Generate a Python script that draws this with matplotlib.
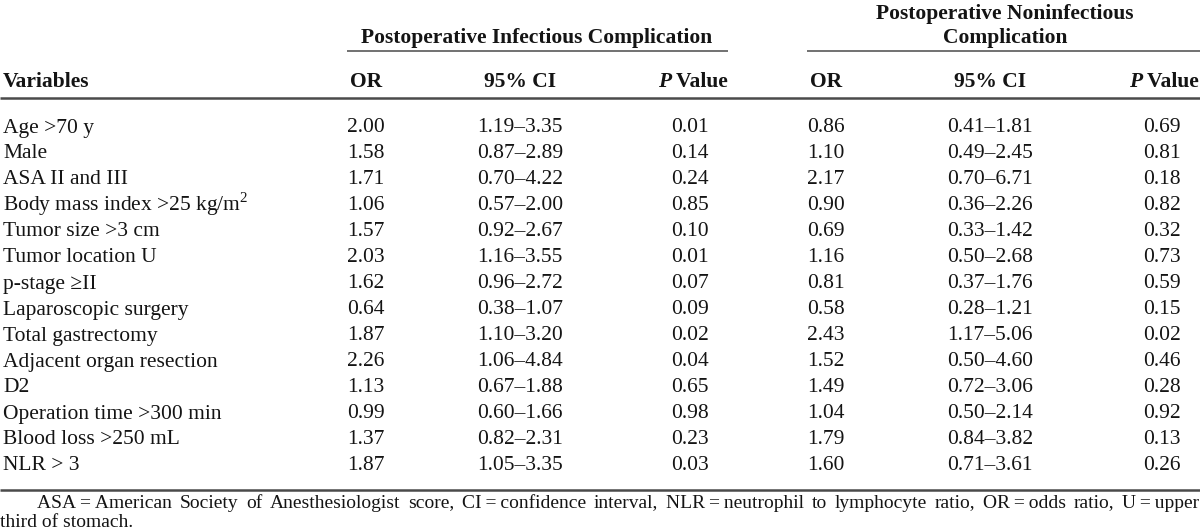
import matplotlib
matplotlib.use("Agg")
import matplotlib.pyplot as plt

plt.rcParams['font.family'] = ['Liberation Serif', 'DejaVu Serif']
plt.rcParams['mathtext.fontset'] = 'custom'
plt.rcParams['mathtext.rm'] = 'Liberation Serif'

# table data
variables = ["Age >70 y", "Male", "ASA II and III", "Body mass index >25 kg/m$^2$",
             "Tumor size >3 cm", "Tumor location U", "p-stage \u2265II",
             "Laparoscopic surgery", "Total gastrectomy", "Adjacent organ resection",
             "D2", "Operation time >300 min", "Blood loss >250 mL", "NLR > 3"]
or_inf = [2.00, 1.58, 1.71, 1.06, 1.57, 2.03, 1.62, 0.64, 1.87, 2.26, 1.13, 0.99, 1.37, 1.87]
ci_inf_lo = [1.19, 0.87, 0.70, 0.57, 0.92, 1.16, 0.96, 0.38, 1.10, 1.06, 0.67, 0.60, 0.82, 1.05]
ci_inf_hi = [3.35, 2.89, 4.22, 2.00, 2.67, 3.55, 2.72, 1.07, 3.20, 4.84, 1.88, 1.66, 2.31, 3.35]
p_inf = [0.01, 0.14, 0.24, 0.85, 0.10, 0.01, 0.07, 0.09, 0.02, 0.04, 0.65, 0.98, 0.23, 0.03]
or_non = [0.86, 1.10, 2.17, 0.90, 0.69, 1.16, 0.81, 0.58, 2.43, 1.52, 1.49, 1.04, 1.79, 1.60]
ci_non_lo = [0.41, 0.49, 0.70, 0.36, 0.33, 0.50, 0.37, 0.28, 1.17, 0.50, 0.72, 0.50, 0.84, 0.71]
ci_non_hi = [1.81, 2.45, 6.71, 2.26, 1.42, 2.68, 1.76, 1.21, 5.06, 4.60, 3.06, 2.14, 3.82, 3.61]
p_non = [0.69, 0.81, 0.18, 0.82, 0.32, 0.73, 0.59, 0.15, 0.02, 0.46, 0.28, 0.92, 0.13, 0.26]

group_labels = ["Postoperative Infectious Complication",
                "Postoperative Noninfectious\nComplication"]
footnote_1 = ("ASA\u2009=\u2009American Society of Anesthesiologist score, CI\u2009=\u2009confidence "
              "interval, NLR\u2009=\u2009neutrophil to lymphocyte ratio, OR\u2009=\u2009odds ratio, "
              "U\u2009=\u2009upper")
footnote_2 = "third of stomach."

TXT = '#141414'
RULE = '#4a4a4a'
FS = 15.5
FN = 14

fig = plt.figure(figsize=(12, 5.3), dpi=100)
ax = fig.add_axes([0, 0, 1, 1])
ax.set_xlim(0, 1200)
ax.set_ylim(530, 0)
ax.axis('off')
renderer = fig.canvas.get_renderer()


def width_of(t):
    return t.get_window_extent(renderer=renderer).width


def runs(x, y, parts, ha='left'):
    # draw text pieces side by side, then shift for alignment
    arts = []
    cur = x
    for s, kw in parts:
        t = ax.text(cur, y, s, va='baseline', ha='left', color=TXT, **kw)
        cur += width_of(t)
        arts.append(t)
    total = cur - x
    shift = {'left': 0, 'center': -total / 2, 'right': -total}[ha]
    for t in arts:
        px, py = t.get_position()
        t.set_position((px + shift, py))


def pvalue_header(x_right, y):
    runs(x_right, y, [("P", dict(fontsize=FS, fontweight='bold', fontstyle='italic')),
                      (" Value", dict(fontsize=FS, fontweight='bold'))], ha='right')


# group headers
ax.text(537, 43, group_labels[0], ha='center', va='baseline', fontsize=FS,
        fontweight='bold', color=TXT)
g2 = group_labels[1].split("\n")
ax.text(1005, 19, g2[0], ha='center', va='baseline', fontsize=FS, fontweight='bold', color=TXT)
ax.text(1005, 43, g2[1], ha='center', va='baseline', fontsize=FS, fontweight='bold', color=TXT)
ax.plot([347, 728], [51, 51], color=RULE, lw=1.1, solid_capstyle='butt')
ax.plot([807, 1200], [51, 51], color=RULE, lw=1.1, solid_capstyle='butt')

# column headers
hy = 87
ax.text(3, hy, "Variables", ha='left', va='baseline', fontsize=FS, fontweight='bold', color=TXT)
for xo, xc, xp in [(366, 520, 728), (826, 990, 1199)]:
    ax.text(xo, hy, "OR", ha='center', va='baseline', fontsize=FS, fontweight='bold', color=TXT)
    ax.text(xc, hy, "95% CI", ha='center', va='baseline', fontsize=FS, fontweight='bold', color=TXT)
    pvalue_header(xp, hy)

ax.plot([0, 1200], [98, 98], color=RULE, lw=1.8, solid_capstyle='butt')

# body rows
y0, dy = 132.5, 26.0
for i, name in enumerate(variables):
    y = y0 + i * dy
    ax.text(3, y, name, ha='left', va='baseline', fontsize=FS, color=TXT)
    cells = [(366, f"{or_inf[i]:.2f}"), (520, f"{ci_inf_lo[i]:.2f}\u2013{ci_inf_hi[i]:.2f}"),
             (690, f"{p_inf[i]:.2f}"), (826, f"{or_non[i]:.2f}"),
             (990, f"{ci_non_lo[i]:.2f}\u2013{ci_non_hi[i]:.2f}"), (1162, f"{p_non[i]:.2f}")]
    for x, s in cells:
        ax.text(x, y, s, ha='center', va='baseline', fontsize=FS, color=TXT)

ax.plot([0, 1200], [490, 490], color=RULE, lw=1.8, solid_capstyle='butt')

# footnote, first line justified
words = footnote_1.split(" ")
arts = [ax.text(0, 507.5, w, ha='left', va='baseline', fontsize=FN, color=TXT) for w in words]
widths = [width_of(t) for t in arts]
left, right = 37, 1199
gap = (right - left - sum(widths)) / (len(words) - 1)
x = left
for t, w in zip(arts, widths):
    t.set_x(x)
    x += w + gap
ax.text(0, 527, footnote_2, ha='left', va='baseline', fontsize=FN, color=TXT)

fig.savefig("out.png", dpi=100)
